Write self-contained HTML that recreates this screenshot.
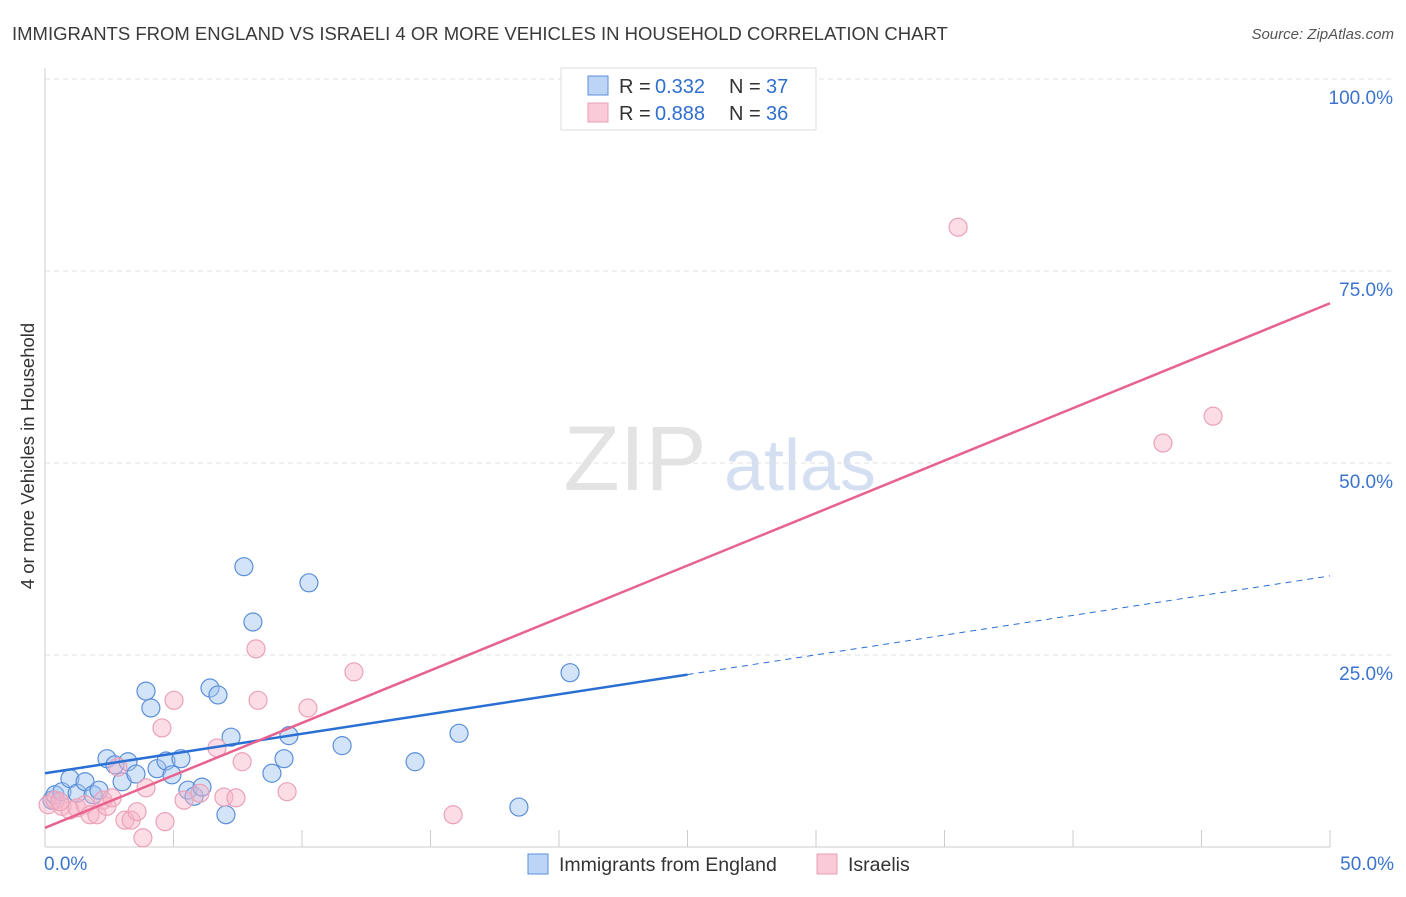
<!DOCTYPE html>
<html><head><meta charset="utf-8">
<style>
body{margin:0;background:#fff;font-family:"Liberation Sans",sans-serif;}
svg text{font-family:"Liberation Sans",sans-serif;}
</style></head>
<body>
<svg id="chart" width="1406" height="892" xmlns="http://www.w3.org/2000/svg">
<text x="12" y="40" font-size="18.5" fill="#3a3a3a">IMMIGRANTS FROM ENGLAND VS ISRAELI 4 OR MORE VEHICLES IN HOUSEHOLD CORRELATION CHART</text>
<text x="1394" y="39" font-size="15" fill="#555" font-style="italic" text-anchor="end">Source: ZipAtlas.com</text>
<text transform="translate(34,456) rotate(-90)" font-size="18.5" fill="#333" text-anchor="middle">4 or more Vehicles in Household</text>
<g>
<text x="635" y="490" font-size="92" fill="#d8d8d8" font-family="Liberation Serif" text-anchor="middle" opacity="0.7">ZIP</text>
<text x="800" y="490" font-size="72" fill="#b9cdea" text-anchor="middle" opacity="0.6">atlas</text>
</g>
<g id="grid"></g>
<g id="axes"></g>
<g id="points"></g>
<g id="trends"></g>
<g>
<rect x="561" y="68" width="255" height="62" fill="#fff" stroke="#ddd"/>
<rect x="588" y="76" width="20" height="19" fill="#bcd4f5" stroke="#5b8fd9"/>
<text x="619" y="93" font-size="20" fill="#333">R =</text>
<text x="655" y="93" font-size="20" fill="#2f6fd0">0.332</text>
<text x="729" y="93" font-size="20" fill="#333">N =</text>
<text x="766" y="93" font-size="20" fill="#2f6fd0">37</text>
<rect x="588" y="103" width="20" height="19" fill="#fbcad8" stroke="#e8a0b5"/>
<text x="619" y="120" font-size="20" fill="#333">R =</text>
<text x="655" y="120" font-size="20" fill="#2f6fd0">0.888</text>
<text x="729" y="120" font-size="20" fill="#333">N =</text>
<text x="766" y="120" font-size="20" fill="#2f6fd0">36</text>
</g>
<g>
<rect x="528" y="854" width="20" height="20" fill="#bcd4f5" stroke="#5b8fd9"/>
<text x="559" y="871" font-size="19.5" fill="#333">Immigrants from England</text>
<rect x="817" y="854" width="20" height="20" fill="#fbcad8" stroke="#e8a0b5"/>
<text x="848" y="871" font-size="19.5" fill="#333">Israelis</text>
</g>
</svg>
<script>
const yTicks=[25,50,75,100];
const yTickLabels=["25.0%","50.0%","75.0%","100.0%"];
const xTickLabels=["0.0%","50.0%"];
const blueX=[0.27,0.39,0.66,0.97,1.25,1.56,1.87,2.1,2.41,2.72,3.0,3.23,3.54,3.93,4.12,4.36,4.71,4.94,5.29,5.56,5.8,6.11,6.42,6.73,7.04,7.24,7.74,8.09,8.83,9.3,9.49,10.27,11.56,14.4,16.11,18.44,20.43];
const blueY=[6.1,6.8,7.2,8.9,7.0,8.5,6.8,7.4,11.5,10.7,8.5,11.1,9.5,20.3,18.1,10.2,11.2,9.4,11.5,7.4,6.6,7.8,20.7,19.8,4.2,14.3,36.5,29.3,9.6,11.5,14.5,34.4,13.2,11.1,14.8,5.2,22.7];
const pinkX=[0.12,0.39,0.66,0.97,1.25,1.56,1.75,2.02,2.26,2.41,2.61,2.84,3.11,3.35,3.58,3.93,3.81,4.55,4.67,5.02,5.41,6.03,6.69,6.96,7.43,7.67,8.21,8.29,9.42,10.23,12.02,15.88,35.53,43.5,45.45,0.58];
const pinkY=[5.5,6.1,5.3,4.8,5.1,5.5,4.2,4.2,6.1,5.3,6.4,10.4,3.5,3.5,4.6,7.7,1.2,15.5,3.3,19.1,6.1,7.0,12.9,6.5,6.4,11.1,25.8,19.1,7.2,18.1,22.8,4.2,80.7,52.6,56.1,5.9];
const blueTrend=[9.6,35.3];
const blueSolidEnd=25;
const pinkTrend=[2.5,70.8];
const NS="http://www.w3.org/2000/svg";
const X0=45,X1=1330,Y0=847,Y100=79;
const xs=v=>X0+(X1-X0)*v/50;
const ys=v=>Y0-(Y0-Y100)*v/100;
function mk(tag,attrs,parent){const e=document.createElementNS(NS,tag);for(const k in attrs)e.setAttribute(k,attrs[k]);document.getElementById(parent).appendChild(e);return e;}
yTicks.forEach((t,i)=>{
 const l=mk('line',{x1:X0,x2:1394,y1:ys(t),y2:ys(t),stroke:'#e2e2e2','stroke-dasharray':'5,4'},'grid');
 
 
 const tx=mk('text',{x:1393,y:ys(t)+25,'font-size':19,fill:'#3b74d0','text-anchor':'end'},'grid');
 tx.textContent=yTickLabels[i];
 
 
});
let a=mk('line',{x1:X0,x2:X0,y1:68,y2:Y0,stroke:'#ccc'},'axes');


a=mk('line',{x1:X0,x2:X1,y1:Y0,y2:Y0,stroke:'#ccc'},'axes');


for(let i=1;i<=10;i++){
 const t=mk('line',{x1:xs(i*5),x2:xs(i*5),y1:830,y2:Y0,stroke:'#ccc'},'axes');
 
 
}
[[0,'start',44],[50,'end',1394]].forEach((p,i)=>{
 const t=mk('text',{x:p[2],y:870,'font-size':19,fill:'#3b74d0','text-anchor':p[1]},'axes');
 t.textContent=xTickLabels[i];
 
 
});
blueX.forEach((v,i)=>{
 const c=mk('circle',{cx:xs(v),cy:ys(blueY[i]),r:9,fill:'rgba(160,196,240,0.45)',stroke:'#5b8fd9','stroke-width':1.2},'points');
 
 
});
pinkX.forEach((v,i)=>{
 const c=mk('circle',{cx:xs(v),cy:ys(pinkY[i]),r:9,fill:'rgba(248,180,200,0.45)',stroke:'#eaa2b8','stroke-width':1.2},'points');
 
 
});
const bAt=v=>blueTrend[0]+(blueTrend[1]-blueTrend[0])*v/50;
let t=mk('line',{x1:xs(0),y1:ys(bAt(0)),x2:xs(blueSolidEnd),y2:ys(bAt(blueSolidEnd)),stroke:'#2a6fd4','stroke-width':2.5},'trends');


t=mk('line',{x1:xs(blueSolidEnd),y1:ys(bAt(blueSolidEnd)),x2:xs(50),y2:ys(bAt(50)),stroke:'#2a6fd4','stroke-width':1,'stroke-dasharray':'6,5'},'trends');


t=mk('line',{x1:xs(0),y1:ys(pinkTrend[0]),x2:xs(50),y2:ys(pinkTrend[1]),stroke:'#e8628f','stroke-width':2.5},'trends');


</script>
</body></html>
